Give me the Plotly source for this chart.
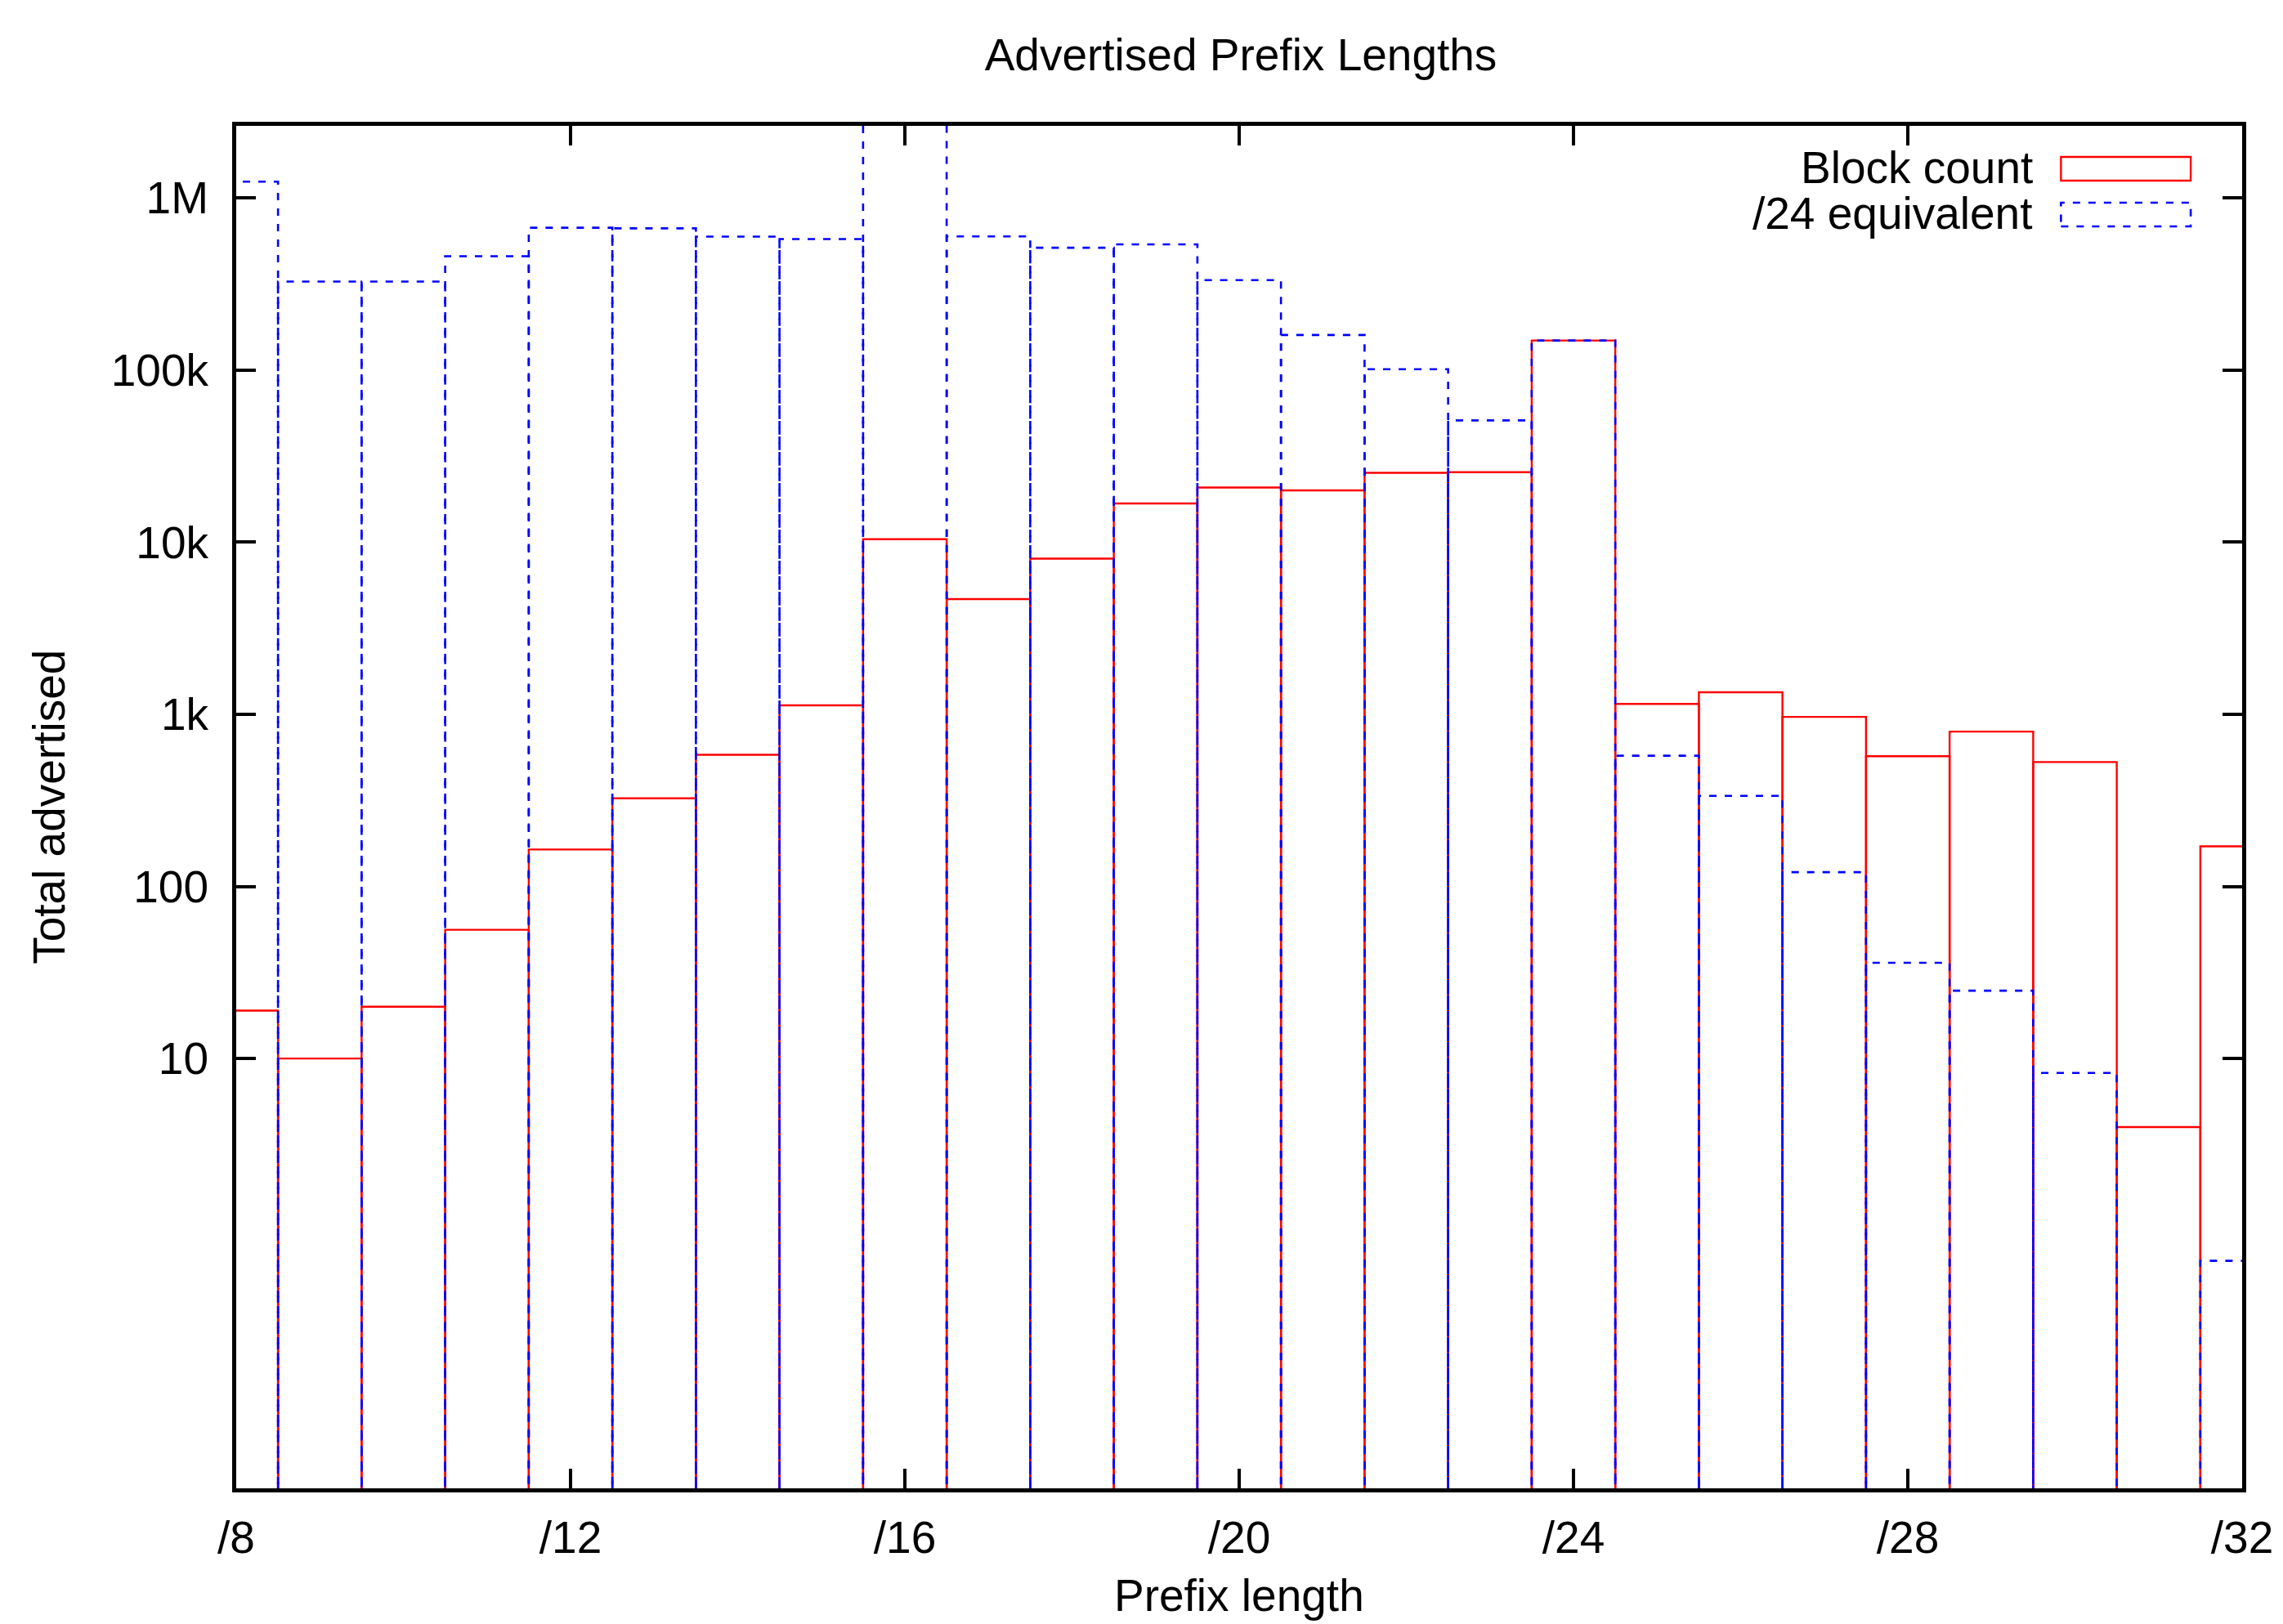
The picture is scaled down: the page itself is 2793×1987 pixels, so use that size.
import plotly.graph_objects as go

# ---- data ----
prefix_len = list(range(8, 33))
block_count = [19, 10, 20, 56, 164, 325, 582, 1127, 10400, 4670, 8030, 16800,
               20800, 20000, 25300, 25500, 148600, 1150, 1343, 966, 571, 794,
               528, 4, 171]
equiv_24 = [1245000, 327000, 327000, 459000, 672000, 666000, 596000, 577000,
            2670000, 598000, 514000, 538000, 333000, 160000, 101200, 51000,
            148600, 575, 336, 121, 36, 24.8, 8.25, 0.03125, 0.668]
x_tickvals = [8, 12, 16, 20, 24, 28, 32]
x_ticktext = ["/8", "/12", "/16", "/20", "/24", "/28", "/32"]
y_tickvals = [10, 100, 1000, 10000, 100000, 1000000]
y_ticktext = ["10", "100", "1k", "10k", "100k", "1M"]

FONT = "Liberation Sans, Arial, Helvetica, sans-serif"
BOX_W = 1.0
FLOOR = 1e-4  # below axis range; lines are clipped at plot edge


def box_path(xs, vals):
    px, py = [], []
    for x, v in zip(xs, vals):
        l, r = x - BOX_W / 2, x + BOX_W / 2
        px += [l, l, r, r, None]
        py += [FLOOR, v, v, FLOOR, None]
    return px, py


fig = go.Figure()
rx, ry = box_path(prefix_len, block_count)
fig.add_trace(go.Scatter(x=rx, y=ry, mode="lines", name="Block count",
                         line=dict(color="#ff0000", width=2.4),
                         connectgaps=False, hoverinfo="skip"))
bx, by = box_path(prefix_len, equiv_24)
fig.add_trace(go.Scatter(x=bx, y=by, mode="lines", name="/24 equivalent",
                         line=dict(color="#0000ff", width=2.6, dash="9px,10px"),
                         connectgaps=False, hoverinfo="skip"))

W, H = 2793, 1987
L, R, T, B = 289, 46, 154, 166

fig.update_layout(
    width=W, height=H,
    margin=dict(l=L, r=R, t=T, b=B, pad=0),
    paper_bgcolor="white", plot_bgcolor="white",
    showlegend=False,
    font=dict(family=FONT, size=55, color="black"),
    title=dict(text="Advertised Prefix Lengths", x=(L + (W - R)) / 2 / W,
               xanchor="center", y=1 - 67 / H, yanchor="middle",
               yref="container", font=dict(size=55)),
)
fig.update_xaxes(
    range=[8, 32], tickvals=x_tickvals, ticktext=x_ticktext,
    ticks="inside", ticklen=24, tickwidth=4, tickcolor="black",
    showline=True, linewidth=5, linecolor="black", mirror="ticks",
    showgrid=False, zeroline=False, ticklabelstandoff=8,
    tickfont=dict(size=55),
)
fig.update_yaxes(
    type="log", range=[-1.497, 6.419], tickvals=y_tickvals, ticktext=y_ticktext,
    ticks="inside", ticklen=24, tickwidth=4, tickcolor="black",
    showline=True, linewidth=5, linecolor="black", mirror="ticks",
    showgrid=False, zeroline=False, ticklabelstandoff=18,
    tickfont=dict(size=55),
)

plot_h = H - T - B
plot_w = W - L - R
fig.add_annotation(text="Prefix length", xref="paper", yref="paper",
                   x=0.5, y=-(1952 - (H - B)) / plot_h, xanchor="center",
                   yanchor="middle", showarrow=False, font=dict(size=55))
fig.add_annotation(text="Total advertised", xref="paper", yref="paper",
                   x=-(L - 59) / plot_w, y=0.5, xanchor="center",
                   yanchor="middle", textangle=-90, showarrow=False,
                   font=dict(size=55))


# legend (gnuplot style: text right-aligned, sample box to the right)
def px_x(v):
    return (v - L) / plot_w


def px_y(v):
    return ((H - B) - v) / plot_h


legend_rows = [("Block count", 192, 221, dict(color="#ff0000", width=2.4)),
               ("/24 equivalent", 248, 277, dict(color="#0000ff", width=2.6, dash="9px,10px"))]
for label, y0, y1, ln in legend_rows:
    fig.add_shape(type="rect", xref="paper", yref="paper",
                  x0=px_x(2525), x1=px_x(2684), y0=px_y(y1), y1=px_y(y0),
                  line=ln, fillcolor="rgba(0,0,0,0)")
    fig.add_annotation(text=label, xref="paper", yref="paper",
                       x=px_x(2493), y=px_y((y0 + y1) / 2 - 2), xanchor="right",
                       yanchor="middle", showarrow=False, font=dict(size=55))

fig.write_html("out.html",
               config={"displayModeBar": False},
               post_script="document.body.style.margin='0';"
                           "document.body.style.overflow='hidden';")
